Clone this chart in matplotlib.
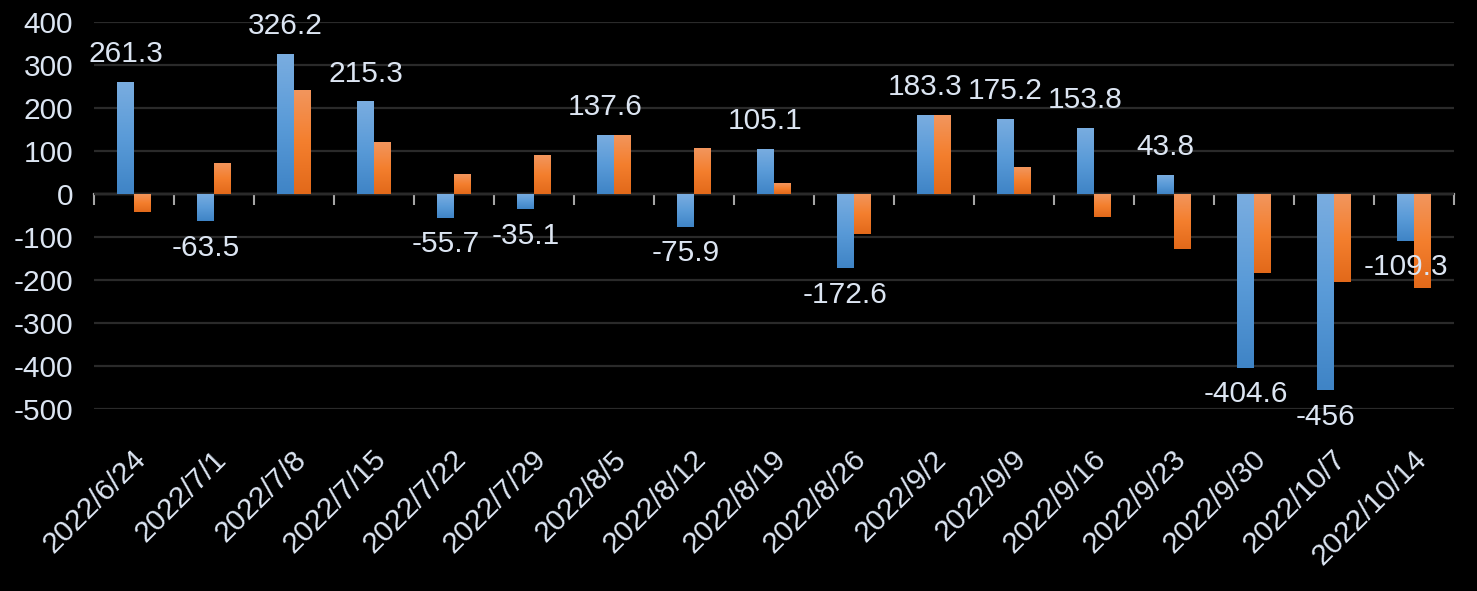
import matplotlib
matplotlib.use("Agg")
import matplotlib.pyplot as plt
import matplotlib.transforms as mtrans
import numpy as np
from matplotlib.colors import LinearSegmentedColormap

dates = ["2022/6/24", "2022/7/1", "2022/7/8", "2022/7/15", "2022/7/22", "2022/7/29",
         "2022/8/5", "2022/8/12", "2022/8/19", "2022/8/26", "2022/9/2", "2022/9/9",
         "2022/9/16", "2022/9/23", "2022/9/30", "2022/10/7", "2022/10/14"]
blue_vals = [261.3, -63.5, 326.2, 215.3, -55.7, -35.1, 137.6, -75.9, 105.1, -172.6,
             183.3, 175.2, 153.8, 43.8, -404.6, -456, -109.3]
orange_vals = [-42, 73, 243, 120, 46, 90, 137.6, 106, 25, -94,
               183.3, 62, -53, -128, -183, -204, -218]
yticks = [400, 300, 200, 100, 0, -100, -200, -300, -400, -500]

TXT = "#DCE5F2"
FONT = ["Liberation Sans", "DejaVu Sans"]
plt.rcParams["font.family"] = FONT

fig = plt.figure(figsize=(14.77, 5.91), dpi=100, facecolor="black")
ax = fig.add_axes([94 / 1477, 182 / 591, 1360 / 1477, 387 / 591])
ax.set_facecolor("black")

x = np.arange(len(dates))
w = 0.2125
blue_cmap = LinearSegmentedColormap.from_list("b", ["#3F84C6", "#5A9BD8", "#7AADE0"])
orange_cmap = LinearSegmentedColormap.from_list("o", ["#E2691A", "#F47F2E", "#F2965E"])

bars_b = ax.bar(x - w / 2, blue_vals, w, color="#5B9BD5", zorder=3, linewidth=0)
bars_o = ax.bar(x + w / 2, orange_vals, w, color="#ED7D31", zorder=3, linewidth=0)

grad = np.linspace(1, 0, 256).reshape(-1, 1)
for bars, cmap in ((bars_b, blue_cmap), (bars_o, orange_cmap)):
    for b in bars:
        x0 = b.get_x()
        x1 = x0 + b.get_width()
        y0 = min(b.get_y(), b.get_y() + b.get_height())
        y1 = max(b.get_y(), b.get_y() + b.get_height())
        im = ax.imshow(grad, extent=[x0, x1, y0, y1], origin="upper", aspect="auto",
                       cmap=cmap, vmin=0, vmax=1, zorder=4, interpolation="bilinear")
        im.set_clip_path(b)

ax.set_xlim(-0.5, len(dates) - 0.5)
ax.set_ylim(-500, 400)
ax.set_yticks(yticks)
ax.set_yticklabels([str(v) for v in yticks])
ax.yaxis.grid(True, color="#2A2A2A", linewidth=1.6, zorder=0)
ax.set_axisbelow(True)
ax.tick_params(axis="y", length=0, pad=15, labelsize=21.5, labelcolor=TXT)

ax.set_xticks(x)
ax.set_xticklabels(dates, rotation=45, ha="right", va="center", rotation_mode="anchor")
ax.tick_params(axis="x", length=0, pad=33, labelsize=21.5, labelcolor=TXT)
off = mtrans.ScaledTranslation(8 / 100, 0, fig.dpi_scale_trans)
for lab in ax.get_xticklabels():
    lab.set_transform(lab.get_transform() + off)

for s in ax.spines.values():
    s.set_visible(False)

# zero axis with category boundary ticks
sec = ax.secondary_xaxis(0, transform=ax.transData)
sec.set_xticks(np.arange(len(dates) + 1) - 0.5)
sec.set_xticklabels([])
sec.tick_params(axis="x", direction="out", length=8, width=1.5, color="#A6A6A6")
sec.spines["bottom"].set_color("#A6A6A6")
sec.spines["bottom"].set_linewidth(1.6)
for k in ("top", "left", "right"):
    sec.spines[k].set_visible(False)

for xi, v in zip(x, blue_vals):
    if v >= 0:
        ax.annotate(f"{v:g}", (xi - w / 2, v), xytext=(0, 10), textcoords="offset points",
                    ha="center", va="bottom", color=TXT, fontsize=21.5, zorder=6)
    else:
        ax.annotate(f"{v:g}", (xi - w / 2, v), xytext=(0, -9), textcoords="offset points",
                    ha="center", va="top", color=TXT, fontsize=21.5, zorder=6)

fig.savefig("out.png", dpi=100, facecolor="black")
